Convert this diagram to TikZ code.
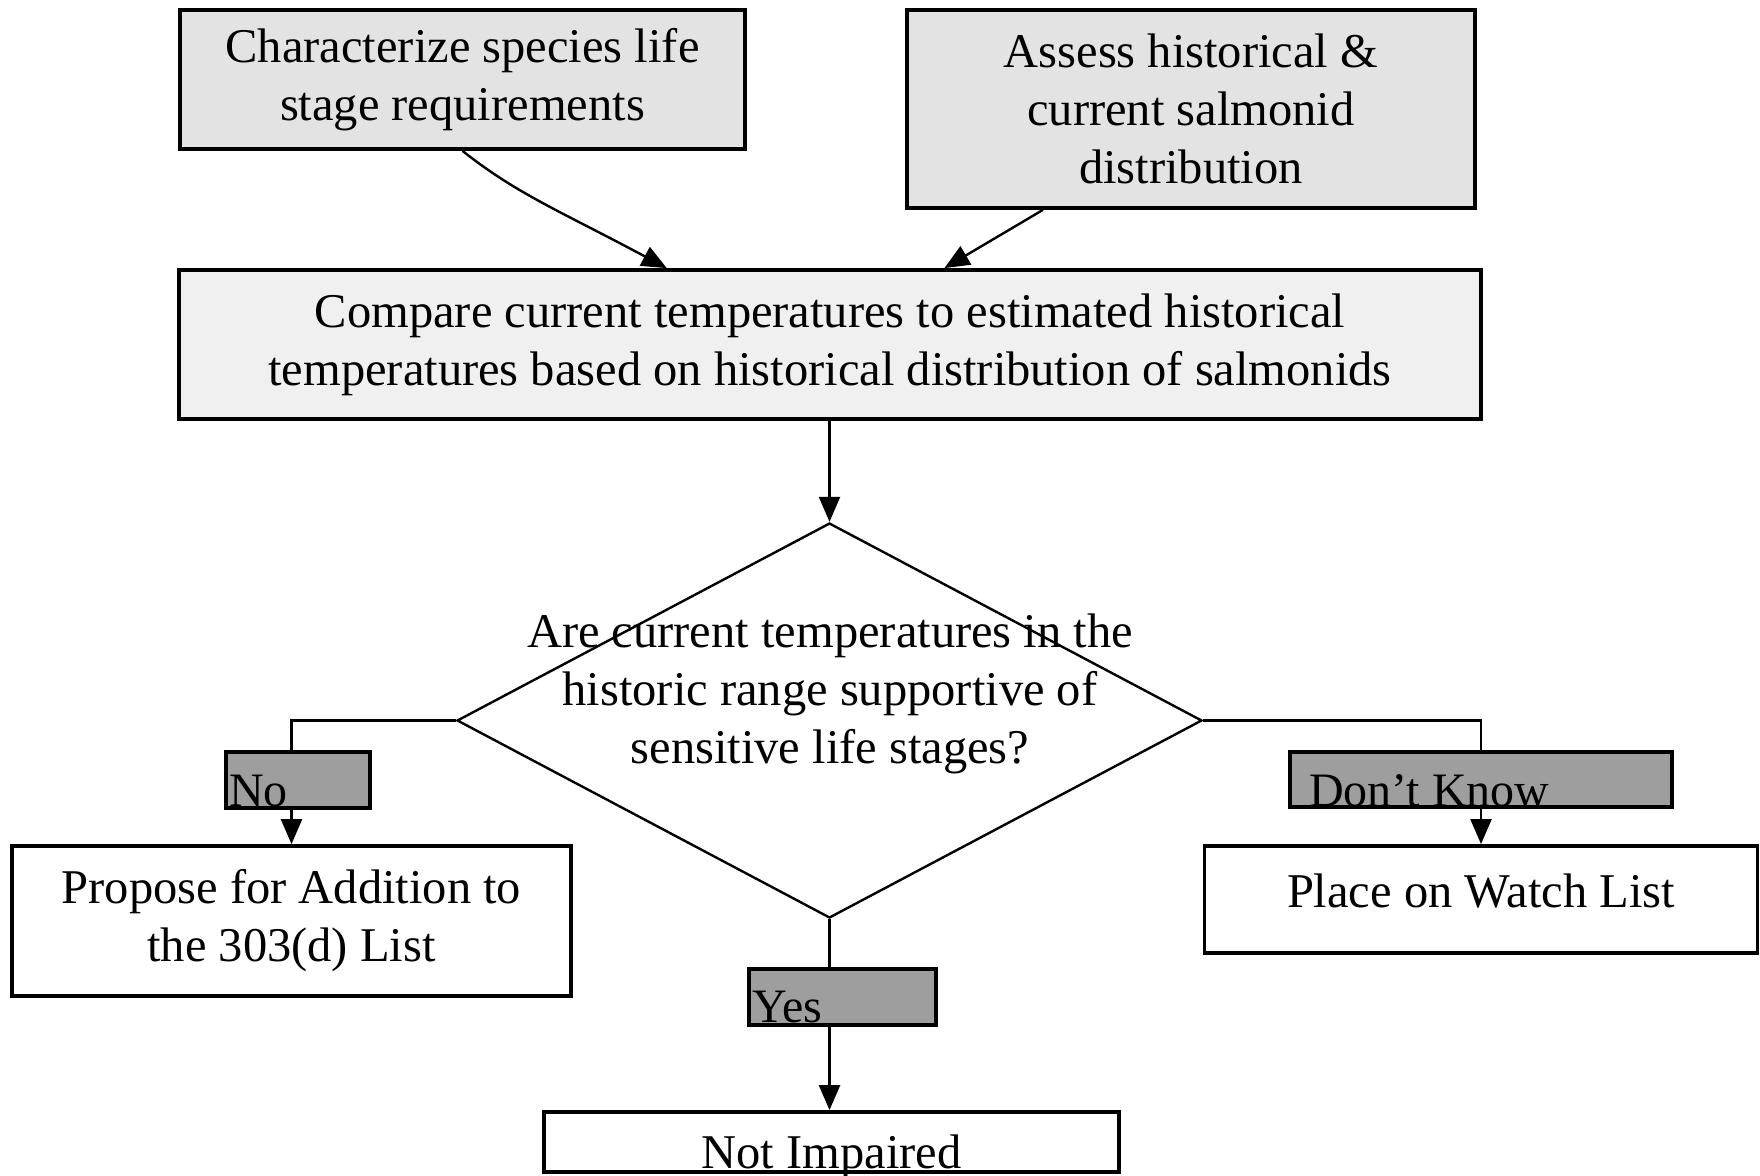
\documentclass[tikz,border=0pt]{standalone}
\usepackage{fontspec}
\setmainfont{Liberation Serif}
\usetikzlibrary{shapes.geometric,arrows.meta,calc}
\begin{document}
\begin{tikzpicture}[x=1pt,y=-1pt,
  box/.style={draw,line width=3.8pt,inner sep=0pt,align=center,font=\fontsize{48.5}{58}\selectfont},
  shaded/.style={box,fill=black!11},
  lab/.style={draw,line width=3.5pt,fill=black!38,inner sep=0pt},
  labtxt/.style={font=\fontsize{48}{58}\selectfont,inner sep=0pt,anchor=base west},
  conn/.style={line width=2.4pt},
  arr/.style={conn,-{Triangle[length=25pt,width=21pt]}}]
\useasboundingbox (0,0) rectangle (1760,1175);

\node[shaded,minimum width=565pt,minimum height=139pt] (c1) at (462.5,79.5) {Characterize species life\\stage requirements};
\node[shaded,minimum width=568pt,minimum height=198pt] (c2) at (1191,109) {Assess historical \&\\current salmonid\\distribution};
\node[box,fill=black!6,minimum width=1302pt,minimum height=149pt] (cmp) at (830,344.5) {Compare current temperatures to estimated historical\\temperatures based on historical distribution of salmonids};

\node[draw,diamond,line width=2.4pt,inner sep=0pt,minimum width=745pt,minimum height=395pt] (dec) at (829.5,720.5) {};
\node[align=center,inner sep=0pt,font=\fontsize{48.5}{58}\selectfont] (q) at (830,694) {Are current temperatures in the\\historic range supportive of\\sensitive life stages?};

\node[lab,minimum width=144pt,minimum height=56pt] (nol) at (298,780) {};
\node[labtxt] (nolt) at (229,806) {No};
\node[box,minimum width=559pt,minimum height=150pt] (pro) at (291.5,921) {Propose for Addition to\\the 303(d) List};

\node[lab,minimum width=382pt,minimum height=55pt] (dk) at (1481,779.5) {};
\node[labtxt] (dkt) at (1309,806) {Don't Know};
\node[box,minimum width=553pt,minimum height=107pt] (wat) at (1481,899.5) {\raisebox{18pt}{Place on Watch List}};

\node[lab,minimum width=187pt,minimum height=56pt] (yes) at (842.5,997) {};
\node[labtxt] (yest) at (752,1022) {Yes};
\node[box,minimum width=575pt,minimum height=60pt] (ni) at (831.5,1142) {};
\node[font=\fontsize{48.5}{58}\selectfont,inner sep=0pt,anchor=base] (nit) at (831.5,1168) {Not Impaired};

\draw[arr] (c1.south) .. controls (517,194) and (558,210) .. ($(cmp.north west)!0.375!(cmp.north east)$);
\draw[arr] ($(c2.south west)!0.241!(c2.south east)$) -- ($(cmp.north west)!0.5876!(cmp.north east)$);
\draw[arr] (cmp.south -| dec.north) -- (dec.north);
\draw[conn] (dec.west) -| (nol.north -| pro.north);
\draw[arr] (nol.south -| pro.north) -- (pro.north);
\draw[conn] (dec.east) -| (dk.north -| wat.north);
\draw[arr] (dk.south -| wat.north) -- (wat.north);
\draw[conn] (dec.south) -- (dec.south |- yes.north);
\draw[arr] (dec.south |- yes.south) -- (ni.north -| dec.south);
\end{tikzpicture}
\end{document}
